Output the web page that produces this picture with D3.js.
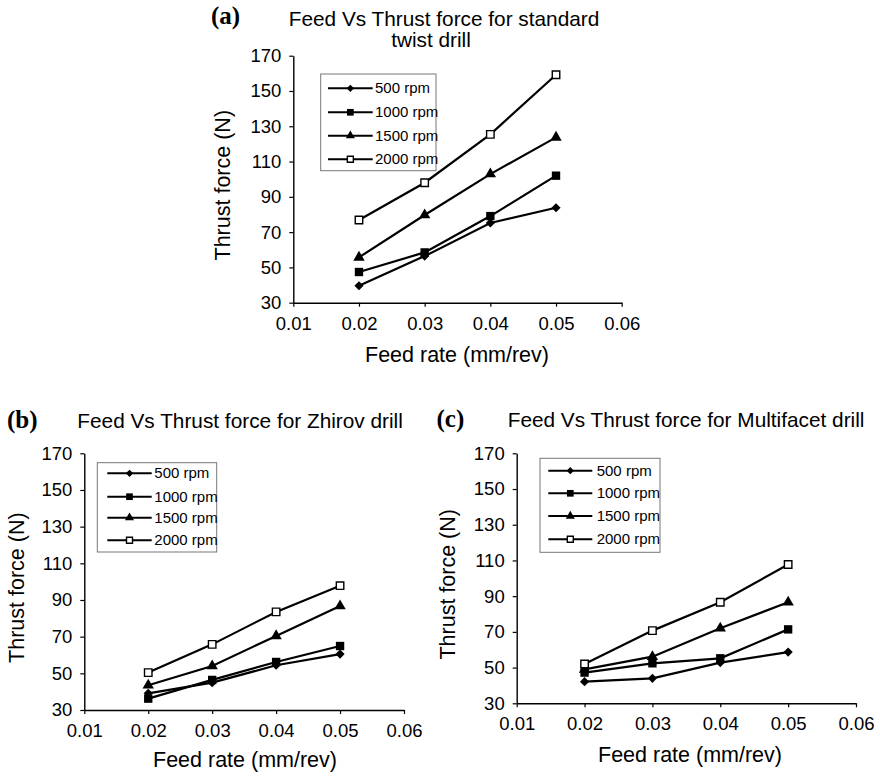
<!DOCTYPE html>
<html>
<head>
<meta charset="utf-8">
<script src="https://cdn.jsdelivr.net/npm/d3@7"></script>
<style>
  body { margin: 0; background: #fff; }
  svg { display: block; }
  text { font-family: Arial, "Liberation Sans", Helvetica, sans-serif; fill: #000; }
</style>
</head>
<body>
<svg id="chart" width="880" height="776"></svg>
<script>
// data
var feedRate = [0.02, 0.03, 0.04, 0.05];
var speeds = ['500 rpm', '1000 rpm', '1500 rpm', '2000 rpm'];
var xTicks = [0.01, 0.02, 0.03, 0.04, 0.05, 0.06];
var yTicks = [30, 50, 70, 90, 110, 130, 150, 170];

// thrust force (N), one row per spindle speed
var twistDrill = [
  [39.6, 56.4, 75.2, 83.8],
  [47.4, 58.5, 79.1, 102.0],
  [55.7, 79.7, 102.9, 123.7],
  [76.9, 98.0, 125.4, 159.2]
];
var zhirovDrill = [
  [39.1, 44.9, 54.4, 60.5],
  [36.2, 46.4, 56.2, 64.9],
  [43.5, 54.0, 70.4, 86.7],
  [50.4, 65.8, 83.5, 97.8]
];
var multifacetDrill = [
  [42.1, 44.0, 52.8, 58.7],
  [47.2, 52.4, 55.2, 71.4],
  [49.0, 56.1, 72.0, 86.6],
  [52.0, 70.7, 86.6, 107.7]
];

var panels = [
  { tag: '(a)', title: ['Feed Vs Thrust force for standard', 'twist drill'], data: twistDrill,
    x0: 293.3, x1: 621.7, y0: 302.7, y1: 55.7,
    tagX: 211, tagY: 24, titleX: [444, 431], titleY: [26, 47], titleAnchor: 'middle',
    legend: { x: 320.7, y: 74, w: 115.3, h: 96.7, rows: [88.3, 112.3, 135.7, 159.3], l0: 328, l1: 372.7, tx: 375 },
    xtY: 362, ytX: 222.7, xtX: 457 },
  { tag: '(b)', title: ['Feed Vs Thrust force for Zhirov drill'], data: zhirovDrill,
    x0: 84.3, x1: 404, y0: 710, y1: 453.3,
    tagX: 7, tagY: 428, titleX: [77.3], titleY: [428], titleAnchor: 'start',
    legend: { x: 97.3, y: 462.7, w: 119.4, h: 89.3, rows: [473.3, 496.7, 517.7, 540.3], l0: 107.3, l1: 151.7, tx: 154.3 },
    xtY: 767, ytX: 17, xtX: 245 },
  { tag: '(c)', title: ['Feed Vs Thrust force for Multifacet drill'], data: multifacetDrill,
    x0: 516.7, x1: 856, y0: 703.3, y1: 453.3,
    tagX: 436.5, tagY: 427, titleX: [507.7], titleY: [427], titleAnchor: 'start',
    legend: { x: 540, y: 458.3, w: 120, h: 94, rows: [470.7, 493.3, 516, 539.3], l0: 548.3, l1: 592.3, tx: 596.7 },
    xtY: 762, ytX: 448.3, xtX: 690 }
];

var svg = d3.select('#chart');

function markerPath(i, scale) {
  var s = scale || 1;
  if (i == 0) return d3.symbol().type(d3.symbolSquare).size(42 * s * s)();
  if (i == 1) return d3.symbol().type(d3.symbolSquare).size(70 * s * s)();
  if (i == 2) return d3.symbol().type(d3.symbolTriangle).size(56 * s * s)();
  return d3.symbol().type(d3.symbolSquare).size(56 * s * s)();
}

function drawMarker(g, i, cx, cy, scale) {
  var m = g.append('path')
    .attr('d', markerPath(i, scale))
    .attr('transform', 'translate(' + cx + ',' + cy + ')' + (i == 0 ? ' rotate(45)' : ''));
  if (i == 3) {
    m.style('fill', '#fff').style('stroke', '#000').style('stroke-width', 1.4);
  } else {
    m.style('fill', '#000');
  }
}

function drawPanel(p) {
  var g = svg.append('g');
  var x = d3.scaleLinear().domain([0.01, 0.06]).range([p.x0, p.x1]);
  var y = d3.scaleLinear().domain([30, 170]).range([p.y0, p.y1]);

  //axes
  var xAxis = d3.axisBottom(x).tickValues(xTicks).tickFormat(d3.format('.2f'))
    .tickSize(4).tickSizeOuter(0).tickPadding(10);
  var yAxis = d3.axisLeft(y).tickValues(yTicks)
    .tickSize(4).tickSizeOuter(0).tickPadding(8);

  var gx = g.append('g').attr('transform', 'translate(0,' + p.y0 + ')').call(xAxis);
  var gy = g.append('g').attr('transform', 'translate(' + p.x0 + ',0)').call(yAxis);
  [gx, gy].forEach(function(a) {
    a.select('.domain').style('stroke', '#000').style('stroke-width', 1.4);
    a.selectAll('.tick line').style('stroke', '#000').style('stroke-width', 1.2);
    a.selectAll('.tick text').style('font-size', '18.5px').style('font-family', 'Arial, "Liberation Sans", sans-serif');
  });

  //axis titles
  g.append('text')
   .attr('x', p.xtX).attr('y', p.xtY)
   .attr('text-anchor', 'middle')
   .style('font-size', '21.5px')
   .text('Feed rate (mm/rev)');
  g.append('text')
   .attr('transform', 'translate(' + (p.ytX + 7) + ',' + ((p.y0 + p.y1) / 2 + 6) + ') rotate(-90)')
   .attr('text-anchor', 'middle')
   .style('font-size', '21.5px')
   .text('Thrust force (N)');

  //titles
  g.append('text')
   .attr('x', p.tagX).attr('y', p.tagY)
   .style('font-family', '"Times New Roman", "Liberation Serif", serif')
   .style('font-weight', 'bold')
   .style('font-size', '25px')
   .text(p.tag);
  p.title.forEach(function(t, k) {
    g.append('text')
     .attr('x', p.titleX[k]).attr('y', p.titleY[k])
     .attr('text-anchor', p.titleAnchor)
     .style('font-size', '20.8px')
     .text(t);
  });

  //series
  var line = d3.line().x(function(d, j) { return x(feedRate[j]); }).y(function(d) { return y(d); });
  p.data.forEach(function(vals, i) {
    g.append('path')
     .attr('d', line(vals))
     .style('fill', 'none')
     .style('stroke', '#000')
     .style('stroke-width', 2.2);
    vals.forEach(function(v, j) {
      drawMarker(g, i, x(feedRate[j]), y(v), 1);
    });
  });

  //legend
  var L = p.legend;
  g.append('rect')
   .attr('x', L.x).attr('y', L.y).attr('width', L.w).attr('height', L.h)
   .style('fill', '#fff').style('stroke', '#777').style('stroke-width', 1);
  speeds.forEach(function(s, i) {
    var ry = L.rows[i];
    g.append('line')
     .attr('x1', L.l0).attr('x2', L.l1).attr('y1', ry).attr('y2', ry)
     .style('stroke', '#000').style('stroke-width', 2);
    drawMarker(g, i, (L.l0 + L.l1) / 2, ry, 0.8);
    g.append('text')
     .attr('x', L.tx).attr('y', ry + 5)
     .style('font-size', '15px')
     .text(s);
  });
}

panels.forEach(drawPanel);
</script>
</body>
</html>
